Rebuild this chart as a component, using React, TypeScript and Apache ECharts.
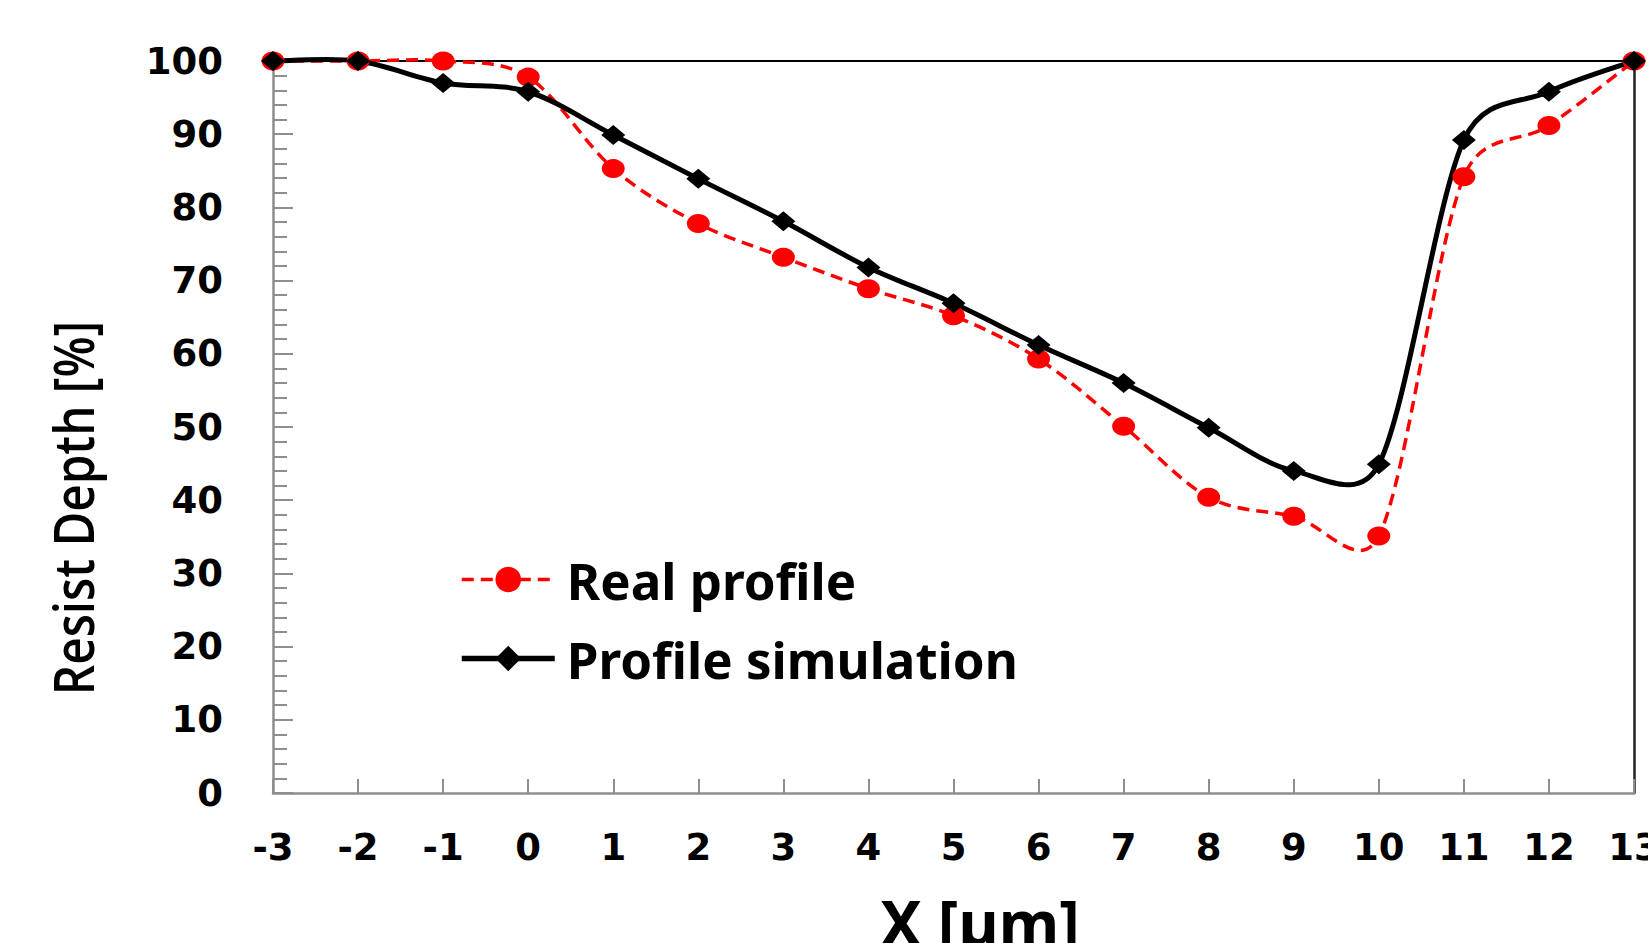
import React, { useEffect, useRef } from "react";
import * as echarts from "echarts";

const xValues = [-3, -2, -1, 0, 1, 2, 3, 4, 5, 6, 7, 8, 9, 10, 11, 12, 13];
const realProfile = [100, 100, 100, 97.8, 85.3, 77.8, 73.2, 68.9, 65.2, 59.3, 50.1, 40.4, 37.8, 35.1, 84.2, 91.2, 100];
const profileSimulation = [100, 100, 97.0, 95.8, 89.9, 83.9, 78.1, 71.8, 66.9, 61.2, 56.0, 49.9, 44.0, 44.9, 89.2, 95.8, 100];
const seriesNames = ["Real profile", "Profile simulation"];
const xTitle = "X [µm]";
const yTitle = "Resist Depth [%]";

const RED = "#ff0000";
const BLACK = "#000000";

function dist(a: number[], b: number[]) {
  return Math.hypot(a[0] - b[0], a[1] - b[1]);
}

// Excel-like smoothed curve, computed in pixel space via the axes
function smoothPath(api: any, values: number[]) {
  const pts = xValues.map((x, i) => api.coord([x, values[i]]) as number[]);
  const n = pts.length;
  let d = `M ${pts[0][0]} ${pts[0][1]}`;
  for (let i = 0; i < n - 1; i++) {
    const p0 = pts[Math.max(i - 1, 0)];
    const p1 = pts[i];
    const p2 = pts[i + 1];
    const p3 = pts[Math.min(i + 2, n - 1)];
    const d12 = dist(p1, p2);
    const d02 = dist(p0, p2);
    const d13 = dist(p1, p3);
    let f1 = 1 / 6;
    let f2 = 1 / 6;
    if (d02 / 6 >= d12 / 2 && d02 > 0) f1 = d12 / (2 * d02);
    if (d13 / 6 >= d12 / 2 && d13 > 0) f2 = d12 / (2 * d13);
    const c1x = p1[0] + (p2[0] - p0[0]) * f1;
    const c1y = p1[1] + (p2[1] - p0[1]) * f1;
    const c2x = p2[0] - (p3[0] - p1[0]) * f2;
    const c2y = p2[1] - (p3[1] - p1[1]) * f2;
    d += ` C ${c1x} ${c1y} ${c2x} ${c2y} ${p2[0]} ${p2[1]}`;
  }
  return d;
}

export default function App() {
  const ref = useRef<HTMLDivElement>(null);
  useEffect(() => {
    if (!ref.current) return;
    const chart = echarts.init(ref.current, null, { renderer: "svg" });
    const gray = "#8e8e8e";
    const labelFont = {
      fontFamily: "DejaVu Sans",
      fontWeight: "bold" as const,
      fontSize: 37,
      color: "#000",
    };
    const curveSeries = (name: string, values: number[], style: any) => ({
      name,
      type: "custom",
      coordinateSystem: "cartesian2d",
      silent: true,
      data: xValues.map((x, i) => [x, values[i]]),
      encode: { x: 0, y: 1 },
      renderItem: (params: any, api: any) => {
        if (params.dataIndex !== 0) return null;
        return {
          type: "path",
          shape: { pathData: smoothPath(api, values) },
          style: { fill: "none", ...style },
        };
      },
    });
    chart.setOption({
      animation: false,
      backgroundColor: "#fff",
      grid: { left: 273, right: 14, top: 61, bottom: 150, containLabel: false, outerBoundsMode: "none" },
      legend: {
        orient: "vertical",
        left: 459,
        top: 554,
        padding: 0,
        itemWidth: 93,
        itemHeight: 32,
        itemGap: 28,
        data: [
          { name: seriesNames[0], lineStyle: { color: RED, width: 3.5, type: [12, 7], opacity: 1 } },
          { name: seriesNames[1], lineStyle: { color: BLACK, width: 5.5, type: "solid", opacity: 1 } },
        ],
        textStyle: {
          fontFamily: "Noto Sans",
          fontWeight: "bold",
          fontSize: 51,
          color: "#000",
          padding: [0, 0, 0, 7],
        },
      },
      xAxis: [
        {
          type: "value",
          min: -3,
          max: 13,
          interval: 1,
          axisLine: { show: true, lineStyle: { color: gray, width: 2.5 } },
          axisTick: { show: true, inside: true, length: 14, lineStyle: { color: gray, width: 2 } },
          axisLabel: { ...labelFont, margin: 36, showMinLabel: true, showMaxLabel: true },
          splitLine: { show: false },
        },
        {
          type: "value",
          position: "top",
          min: -3,
          max: 13,
          interval: 1,
          axisLine: { show: true, onZero: false, lineStyle: { color: "#000", width: 2 } },
          axisTick: { show: false },
          axisLabel: { show: false },
          splitLine: { show: false },
        },
      ],
      yAxis: [
        {
          type: "value",
          min: 0,
          max: 100,
          interval: 10,
          axisLine: { show: true, onZero: false, lineStyle: { color: gray, width: 2.5 } },
          axisTick: { show: true, inside: true, length: 20, lineStyle: { color: gray, width: 2 } },
          minorTick: { show: true, splitNumber: 5, length: 14, lineStyle: { color: gray, width: 2 } },
          axisLabel: { ...labelFont, margin: 50 },
          splitLine: { show: false },
        },
        {
          type: "value",
          position: "right",
          min: 0,
          max: 100,
          interval: 10,
          axisLine: { show: true, onZero: false, lineStyle: { color: "#222", width: 2.5 } },
          axisTick: { show: false },
          axisLabel: { show: false },
          splitLine: { show: false },
        },
      ],
      series: [
        curveSeries("real-curve", realProfile, { stroke: RED, lineWidth: 3.5, lineDash: [12, 7] }),
        {
          name: seriesNames[0],
          type: "line",
          data: xValues.map((x, i) => [x, realProfile[i]]),
          symbol: "circle",
          symbolSize: [23, 19],
          itemStyle: { color: RED },
          lineStyle: { color: RED, width: 3.5, type: [12, 7], opacity: 0 },
        },
        curveSeries("sim-curve", profileSimulation, { stroke: BLACK, lineWidth: 5 }),
        {
          name: seriesNames[1],
          type: "line",
          data: xValues.map((x, i) => [x, profileSimulation[i]]),
          symbol: "diamond",
          symbolSize: [24, 20],
          itemStyle: { color: BLACK },
          lineStyle: { color: BLACK, width: 5, opacity: 0 },
        },
      ],
      graphic: [
        {
          type: "text",
          x: 72,
          y: 508,
          rotation: Math.PI / 2,
          scaleX: 0.85,
          style: {
            text: yTitle,
            fontFamily: "Open Sans",
            fontWeight: 600,
            fontSize: 56,
            fill: "#000",
            align: "center",
            verticalAlign: "middle",
          },
        },
        {
          type: "text",
          x: 980,
          y: 922,
          style: {
            text: xTitle,
            fontFamily: "Noto Sans",
            fontWeight: "bold",
            fontSize: 62,
            fill: "#000",
            align: "center",
            verticalAlign: "middle",
          },
        },
      ],
    });
    return () => chart.dispose();
  }, []);
  return (
    <div
      ref={ref}
      style={{ position: "fixed", left: 0, top: 0, width: 1648, height: 943, background: "#fff" }}
    />
  );
}
